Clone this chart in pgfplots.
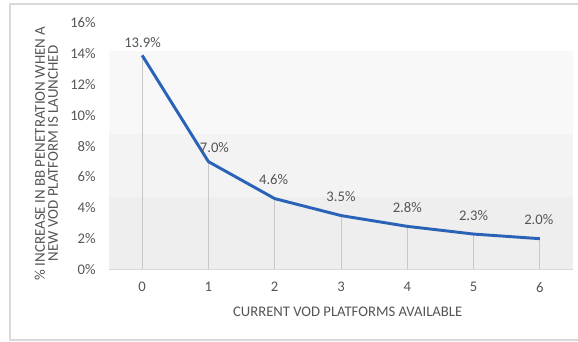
\documentclass[border=0pt]{standalone}
\usepackage{pgfplots}
\pgfplotsset{compat=1.18}
\usepackage{pgfplotstable}
\usepackage{fontspec}
\setmainfont{Carlito}

\definecolor{lineblue}{HTML}{2A62B8}
\definecolor{txtgray}{HTML}{555555}
\definecolor{framegray}{HTML}{D9D9D9}
\definecolor{dropgray}{HTML}{C8C8C8}
\definecolor{bandA}{HTML}{F8F8F8}
\definecolor{bandB}{HTML}{F3F3F3}
\definecolor{bandC}{HTML}{EEEEEE}

% x, value (%), label offsets (pt)
\pgfplotstableread{
x  y     dx    dy
0  13.9  0.3   9.8
1  7.0   4.5   10.2
2  4.6   -0.8  14.2
3  3.5   0.0   14.2
4  2.8   0.0   14.2
5  2.3   0.0   14.2
6  2.0   -0.8  14.6
}\vodtable

\begin{document}
\begin{tikzpicture}
% page extent and outer frame
\useasboundingbox (-81.75pt,-54.375pt) rectangle (351.75pt,202.125pt);
\draw[framegray, line width=0.9pt]
  (351.75pt,199.1pt) -- (-74.25pt,199.1pt) -- (-74.25pt,-52.9pt) -- (351.75pt,-52.9pt);

\begin{axis}[
  at={(0pt,0pt)}, anchor=south west,
  scale only axis,
  width=348pt, height=184.9pt,
  xmin=-0.5, xmax=6.5,
  ymin=0, ymax=16,
  axis x line*=bottom,
  axis y line*=left,
  x axis line style={framegray, line width=0.9pt, -},
  y axis line style={draw=none},
  xtick={0,...,6},
  ytick={0,2,...,16},
  major tick length=0pt,
  tick style={draw=none},
  font=\fontsize{11}{13}\selectfont,
  tick label style={text=txtgray, font=\fontsize{11}{13}\selectfont},
  /pgf/number format/assume math mode=true,
  yticklabel={\pgfmathprintnumber{\tick}\%},
  yticklabel style={anchor=east, xshift=-6.5pt},
  xticklabel style={yshift=-6pt},
  clip=false,
]
% shaded background bands
\addplot[fill=bandA, draw=none] coordinates {(-0.5,8.8) (6.5,8.8) (6.5,14.2) (-0.5,14.2)} -- cycle;
\addplot[fill=bandB, draw=none] coordinates {(-0.5,4.7) (6.5,4.7) (6.5,8.8) (-0.5,8.8)} -- cycle;
\addplot[fill=bandC, draw=none] coordinates {(-0.5,0) (6.5,0) (6.5,4.7) (-0.5,4.7)} -- cycle;

% drop lines
\addplot[ycomb, dropgray, line width=0.7pt, mark=none] table[x=x, y=y] {\vodtable};

% the curve with value labels
\addplot[
  lineblue, line width=2.2pt, mark=none, line join=round,
  point meta=explicit,
  visualization depends on={\thisrow{dx} \as \labdx},
  visualization depends on={\thisrow{dy} \as \labdy},
  nodes near coords={\pgfmathprintnumber[fixed, fixed zerofill, precision=1]{\pgfplotspointmeta}\%},
  every node near coord/.style={anchor=center, text=txtgray,
    font=\fontsize{11}{13}\selectfont,
    xshift=\labdx pt, yshift=\labdy pt},
] table[x=x, y=y, meta=y] {\vodtable};
\end{axis}

% axis titles
\node[rotate=90, align=center, text=txtgray, font=\fontsize{11.2}{9.9}\selectfont]
  at (-47pt,87pt) {\% INCREASE IN BB PENETRATION WHEN A\\NEW VOD PLATFORM IS LAUNCHED};
\node[text=txtgray, font=\fontsize{11}{13}\selectfont]
  at (179pt,-32pt) {CURRENT VOD PLATFORMS AVAILABLE};
\end{tikzpicture}
\end{document}
